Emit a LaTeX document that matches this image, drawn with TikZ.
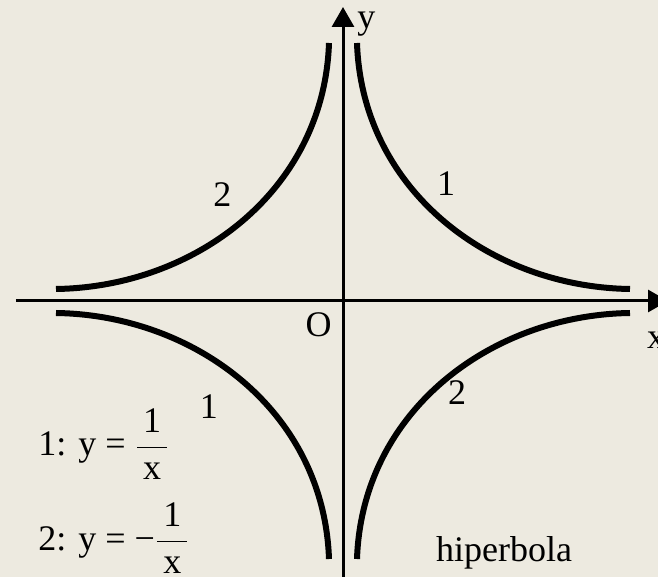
\documentclass[tikz,border=0pt]{standalone}
\usepackage{fontspec}
\setmainfont{Liberation Serif}
\usetikzlibrary{arrows.meta}
\definecolor{paper}{RGB}{237,234,224}

\begin{document}
\begin{tikzpicture}[x=0.5pt, y=0.5pt, font=\fontsize{18}{22}\selectfont]
	\fill[paper] (-343,-276) rectangle (315,301);
	\useasboundingbox (-343,-276) rectangle (315,301);
	\node[shape=coordinate] (xl) at (-327,0) {};
	\node[shape=coordinate] (xr) at (325,0) {};
	\node[shape=coordinate] (yb) at (0,-280) {};
	\node[shape=coordinate] (yt) at (0,294) {};
	\node[inner sep=0] (o) at (-24.5,-23.5) {O};
	\node[inner sep=0] (lx) at (313,-39) {x};
	\node[inner sep=0, anchor=base west] (ly) at (14,272) {y};
	\node[inner sep=0] (n1) at (103,117) {1};
	\node[inner sep=0] (n2) at (-120.5,106) {2};
	\node[inner sep=0] (n3) at (-134,-106) {1};
	\node[inner sep=0] (n4) at (114,-92) {2};
	\node[inner sep=0, anchor=base west] (f1) at (-305,-155) {1: y = $\displaystyle\frac{\mbox{1}}{\mbox{\,x\,}}$};
	\node[inner sep=0, anchor=base west] (f2) at (-305,-249) {2: y = −$\displaystyle\frac{\mbox{1}}{\mbox{\,x\,}}$};
	\node[inner sep=0, anchor=base] (h) at (161,-260) {hiperbola};
	\begin{scope}[line width=1.5pt, -{Triangle[length=10pt, width=11pt]}]
		\draw (xl) -- (xr);
		\draw (yb) -- (yt);
	\end{scope}
	\begin{scope}[line width=3pt]
		\foreach \sx/\sy in {1/1, -1/1, -1/-1, 1/-1}
			\draw ({\sx*14},{\sy*258}) .. controls ({\sx*19},{\sy*111}) and ({\sx*147},{\sy*14}) .. ({\sx*287},{\sy*12});
	\end{scope}
\end{tikzpicture}
\end{document}
